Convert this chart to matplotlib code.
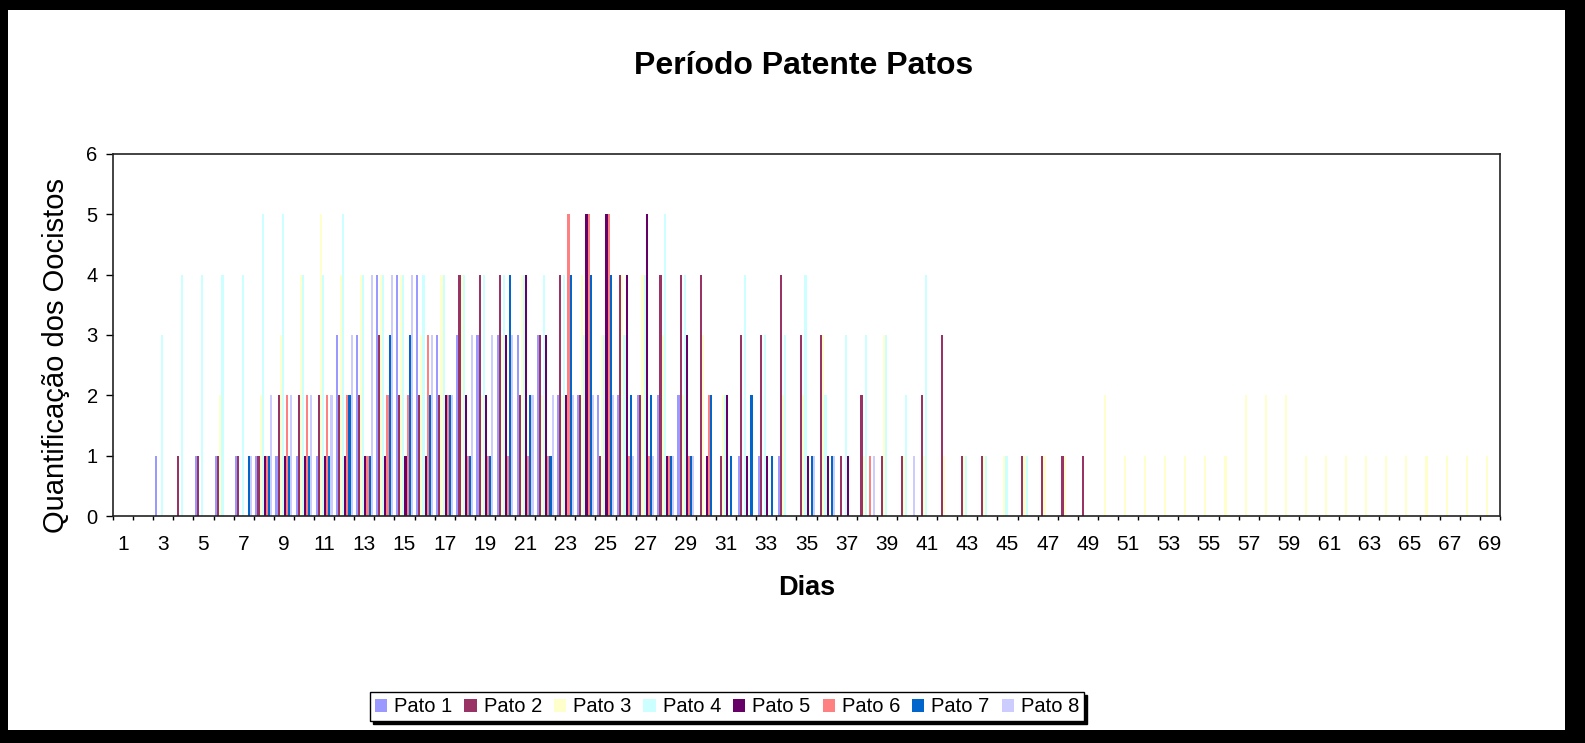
import numpy as np
import matplotlib
matplotlib.use('Agg')
import matplotlib.pyplot as plt
import matplotlib.patches as mpatches

#days 1..69 and the oocyst counts for each duck
dias = list(range(1, 70))

pato1 = [0, 0, 1, 0, 1, 1, 1, 1, 1, 1, 1, 3, 3, 4, 4, 4, 3, 3, 3, 3,
         3, 3, 2, 2, 2, 2, 2, 2, 2, 0, 0, 1, 1, 1, 0, 0, 0, 0, 0, 0,
         0, 0, 0, 0, 0, 0, 0, 0, 0, 0] + [0] * 19
pato2 = [0, 0, 0, 1, 1, 1, 1, 1, 2, 2, 2, 2, 2, 3, 2, 2, 2, 4, 4, 4,
         2, 3, 4, 2, 1, 4, 2, 4, 4, 4, 1, 3, 3, 4, 3, 3, 1, 2, 1, 1,
         2, 3, 1, 1, 0, 1, 1, 1, 1, 0] + [0] * 19
pato3 = [0, 0, 0, 0, 0, 2, 0, 2, 3, 4, 5, 4, 4, 4, 4, 3, 4, 4, 2, 3,
         4, 2, 2, 4, 3, 4, 4, 3, 2, 3, 2, 0, 0, 2, 2, 3, 0, 1, 3, 1,
         1, 1, 1, 1, 1, 1, 1, 1, 0, 2, 1, 1, 1, 1, 1, 1, 2, 2, 2, 1,
         1, 1, 1, 1, 1, 1, 1, 1, 1]
pato4 = [0, 0, 3, 4, 4, 4, 4, 5, 5, 4, 4, 5, 4, 4, 4, 4, 4, 4, 4, 4,
         4, 4, 4, 3, 3, 3, 4, 5, 4, 0, 2, 4, 3, 3, 4, 2, 3, 3, 3, 2,
         4, 0, 1, 1, 1, 1, 0, 0, 0, 0] + [0] * 19
pato5 = [0, 0, 0, 0, 0, 0, 0, 1, 1, 1, 1, 1, 1, 1, 1, 1, 2, 2, 2, 3,
         4, 3, 2, 5, 5, 4, 5, 1, 3, 1, 2, 1, 1, 0, 1, 1, 1, 0, 0, 0,
         0, 0, 0, 0, 0, 0, 0, 0, 0, 0] + [0] * 19
pato6 = [0, 0, 0, 0, 0, 0, 0, 1, 2, 2, 2, 2, 1, 2, 2, 3, 2, 1, 1, 1,
         1, 1, 5, 5, 5, 1, 1, 1, 1, 2, 0, 0, 0, 0, 0, 0, 0, 1, 0, 0,
         0, 0, 0, 0, 0, 0, 0, 0, 0, 0] + [0] * 19
pato7 = [0, 0, 0, 0, 0, 0, 1, 1, 1, 1, 1, 2, 1, 3, 3, 2, 2, 1, 1, 4,
         2, 1, 4, 4, 4, 2, 2, 1, 1, 2, 1, 2, 1, 0, 1, 1, 0, 0, 0, 0,
         0, 0, 0, 0, 0, 0, 0, 0, 0, 0] + [0] * 19
pato8 = [0, 0, 0, 0, 0, 0, 1, 2, 2, 2, 2, 3, 4, 4, 4, 3, 2, 3, 3, 3,
         2, 2, 2, 2, 2, 1, 1, 1, 1, 0, 0, 0, 0, 0, 1, 1, 0, 1, 0, 1,
         0, 0, 0, 0, 0, 0, 0, 0, 0, 0] + [0] * 19

series = [pato1, pato2, pato3, pato4, pato5, pato6, pato7, pato8]
nomes = ['Pato 1', 'Pato 2', 'Pato 3', 'Pato 4', 'Pato 5', 'Pato 6', 'Pato 7', 'Pato 8']
cores = ['#9999FF', '#993366', '#FFFFCC', '#CCFFFF', '#660066', '#FF8080', '#0066CC', '#CCCCFF']

plt.rcParams['font.family'] = ['Liberation Sans', 'DejaVu Sans']

fig = plt.figure(figsize=(15.85, 7.43), dpi=100, facecolor='black')

#white chart area inside the black frame (drawn behind the axes)
fundo = mpatches.Rectangle((8 / 1585, 13 / 743), (1565 - 8) / 1585, (743 - 10 - 13) / 743,
                           transform=fig.transFigure, facecolor='white', edgecolor='none', zorder=-10)
fig.patches.append(fundo)

ax = fig.add_axes([113 / 1585, 1 - 516 / 743, (1500 - 113) / 1585, (516 - 154) / 743])
ax.set_facecolor('white')

#8 bars per day, excel style gap between groups
largura = 1 / 9.5
x = np.array(dias)
for i, (valores, nome, cor) in enumerate(zip(series, nomes, cores)):
    desloc = -4 * largura + (i + 0.5) * largura
    ax.bar(x + desloc, valores, width=largura, color=cor, label=nome, edgecolor='none', zorder=2)

ax.set_xlim(0.5, 69.5)
ax.set_ylim(0, 6)
ax.set_yticks(range(0, 7))
ax.set_xticks(dias[::2])
ax.set_xticklabels([str(d) for d in dias[::2]])
ax.set_xticks(np.arange(0.5, 70, 1), minor=True)
ax.tick_params(axis='x', which='major', length=0, labelsize=15, pad=14)
ax.tick_params(axis='x', which='minor', length=3, width=1)
ax.tick_params(axis='y', length=5, width=1, labelsize=14.5, pad=6)

for lado in ['left', 'bottom', 'top', 'right']:
    ax.spines[lado].set_color('#222222')
    ax.spines[lado].set_linewidth(1.2)

#titles and axis labels placed like in the original
fig.text(0.507, 0.911, 'Período Patente Patos', ha='center', va='center',
         fontsize=23, fontweight='bold')
fig.text(0.0353, 0.522, 'Quantificação dos Oocistos', ha='center', va='center',
         rotation=90, fontsize=21)
fig.text(0.509, 0.2086, 'Dias', ha='center', va='center', fontsize=19.5, fontweight='bold')

leg = fig.legend(loc='center', bbox_to_anchor=(0.4587, 0.0485), ncol=8, fontsize=14.5,
                 frameon=True, fancybox=False, shadow={'color': 'black', 'alpha': 1},
                 handlelength=0.6, handleheight=0.6, handletextpad=0.35, columnspacing=0.6,
                 borderpad=0.25, borderaxespad=0)
leg.get_frame().set_edgecolor('black')
leg.get_frame().set_linewidth(1)
for h in leg.legend_handles:
    h.set_edgecolor('none')

fig.savefig('out.png', dpi=100, facecolor=fig.get_facecolor())
